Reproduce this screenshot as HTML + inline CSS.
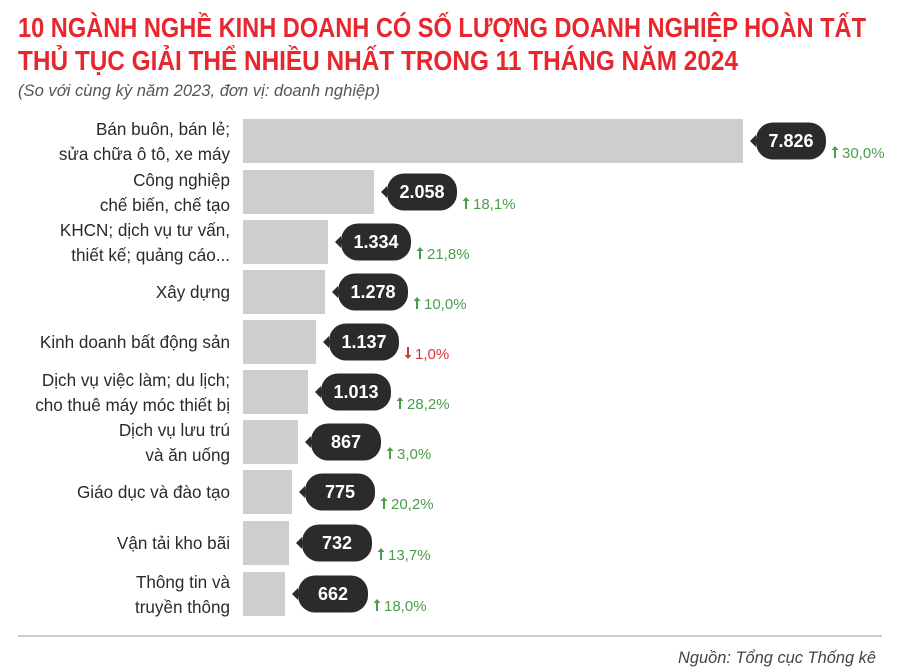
<!DOCTYPE html>
<html><head><meta charset="utf-8"><style>
body{margin:0;background:#fff;}
svg{display:block}
.t{font-family:"Liberation Sans Narrow","Liberation Sans",sans-serif;font-weight:bold;fill:#e8262e;font-size:28px}
.l{font-family:"Liberation Sans",sans-serif;font-size:18px;fill:#2a2a2a;text-anchor:end}
.v{font-family:"Liberation Sans",sans-serif;font-weight:bold;font-size:18px;fill:#fff;text-anchor:middle}
.p{font-family:"Liberation Sans",sans-serif;font-size:15px}
</style></head><body>
<svg width="900" height="672" viewBox="0 0 900 672" xmlns="http://www.w3.org/2000/svg">
<text class="t" x="18" y="37" textLength="848" lengthAdjust="spacingAndGlyphs">10 NGÀNH NGHỀ KINH DOANH CÓ SỐ LƯỢNG DOANH NGHIỆP HOÀN TẤT</text>
<text class="t" x="18" y="70" textLength="720" lengthAdjust="spacingAndGlyphs">THỦ TỤC GIẢI THỂ NHIỀU NHẤT TRONG 11 THÁNG NĂM 2024</text>
<text x="18" y="96" font-family="Liberation Sans,sans-serif" font-style="italic" font-size="17" fill="#555" textLength="362" lengthAdjust="spacingAndGlyphs">(So với cùng kỳ năm 2023, đơn vị: doanh nghiệp)</text>
<g id="rows"></g>
<line x1="18" y1="636" x2="882" y2="636" stroke="#ccc" stroke-width="2"/>
<text x="876" y="663" text-anchor="end" font-family="Liberation Sans,sans-serif" font-style="italic" font-size="17" fill="#444" textLength="198" lengthAdjust="spacingAndGlyphs">Nguồn: Tổng cục Thống kê</text>
</svg>
<script>
var d=[["Bán buôn, bán lẻ;|sửa chữa ô tô, xe máy",743,"7.826","30,0%",1],
["Công nghiệp|chế biến, chế tạo",374,"2.058","18,1%",1],
["KHCN; dịch vụ tư vấn,|thiết kế; quảng cáo...",328,"1.334","21,8%",1],
["Xây dựng",325,"1.278","10,0%",1],
["Kinh doanh bất động sản",316,"1.137","1,0%",0],
["Dịch vụ việc làm; du lịch;|cho thuê máy móc thiết bị",308,"1.013","28,2%",1],
["Dịch vụ lưu trú|và ăn uống",298,"867","3,0%",1],
["Giáo dục và đào tạo",292,"775","20,2%",1],
["Vận tải kho bãi",289,"732","13,7%",1],
["Thông tin và|truyền thông",285,"662","18,0%",1]];
var s="",ys=[119,170,220,270,320,370,420,470,521,572];
function lab(x,y,t){return '<text class="l" transform="translate(230 '+y+') scale(0.95 1)" x="0" y="0">'+t+'</text>';}
d.forEach(function(r,i){var y=ys[i],c=y+22,e=r[1];
s+='<rect x="243" y="'+y+'" width="'+(e-243)+'" height="44" fill="#cfcdd0"/>';
var L=r[0].split("|");
if(L.length==1)s+=lab(230,c+6,L[0]);
else{s+=lab(230,c-6,L[0])+lab(230,c+19,L[1]);}
var t=e+7,b=t+6;
s+='<path d="M'+t+' '+c+' L'+b+' '+(c-6)+' L'+b+' '+(c+6)+'Z" fill="#2d2a2c"/>';
s+='<rect x="'+b+'" y="'+(c-18.5)+'" width="70" height="37" rx="17" fill="#2d2a2c"/>';
s+='<text class="v" x="'+(b+35)+'" y="'+(c+6)+'">'+r[2]+'</text>';
var px=t+82,col=r[4]?"#4a9e4a":"#d9343a",py=c+17;
if(r[4])s+='<path d="M'+(px+3)+' '+(py-12)+' l-3.5 4 h2.5 v8 h2 v-8 h2.5z" fill="'+col+'"/>';
else s+='<path d="M'+(px+3)+' '+(py)+' l-3.5 -4 h2.5 v-8 h2 v8 h2.5z" fill="'+col+'"/>';
s+='<text class="p" x="'+(px+10)+'" y="'+py+'" style="fill:'+col+'">'+r[3]+'</text>';});
document.getElementById("rows").innerHTML=s;
</script>
</body></html>
